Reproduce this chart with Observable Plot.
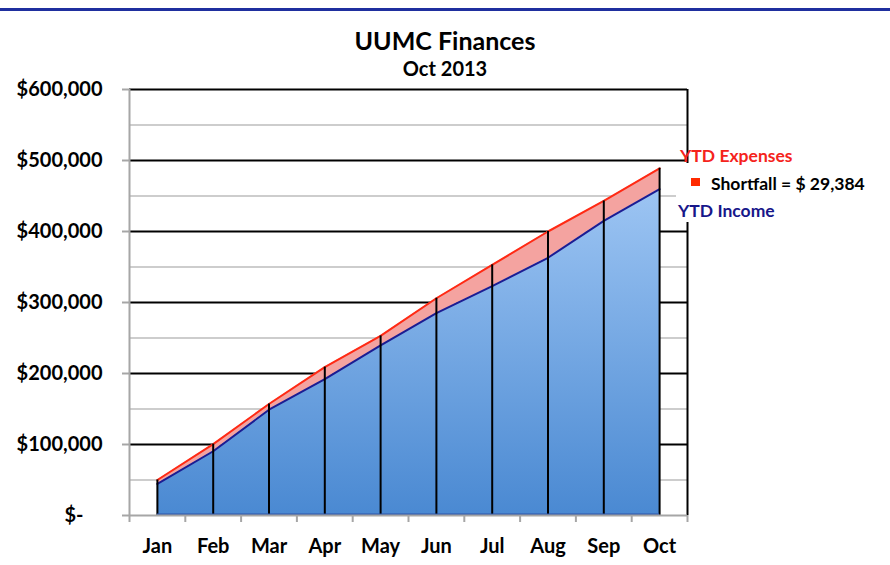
<!DOCTYPE html>
<html><head><meta charset="utf-8">
<script src="https://cdn.jsdelivr.net/npm/d3@7"></script>
<script src="https://cdn.jsdelivr.net/npm/@observablehq/plot@0.6"></script>
<style>
html,body{margin:0;padding:0;background:#fff;}
#page{position:relative;width:890px;height:565px;overflow:hidden;font-family:Lato,"Open Sans",sans-serif;font-weight:bold;}
.topline{position:absolute;left:0;top:8px;width:890px;height:3px;background:#1f2f9f;}
.ttl{position:absolute;left:0;width:890px;text-align:center;color:#000;line-height:1;white-space:nowrap;}
#chart{position:absolute;left:0;top:60px;}
.lbl{position:absolute;font-size:17.5px;line-height:1;white-space:nowrap;}
.lbox{position:absolute;left:676px;top:163px;width:214px;height:59px;background:#fff;}
.sw{position:absolute;left:691px;top:178px;width:9px;height:8px;background:#ff2a00;}
</style></head><body>
<div id="page">
  <div class="topline"></div>
  <div class="ttl" id="t1" style="top:27.5px;font-size:25px;">UUMC Finances</div>
  <div class="ttl" id="t2" style="top:57.5px;font-size:20px;">Oct 2013</div>
  <div id="chart"></div>
  <div class="lbox"></div>
  <div class="lbl" id="lexp" style="left:680px;top:146.5px;color:#f5231c;">YTD Expenses</div>
  <div class="sw"></div>
  <div class="lbl" id="lsf" style="left:711px;top:174.5px;color:#000;"></div>
  <div class="lbl" id="linc" style="left:678px;top:201.5px;color:#17178a;">YTD Income</div>
</div>
<script>
const months = ["Jan","Feb","Mar","Apr","May","Jun","Jul","Aug","Sep","Oct"];
const expenses = [50000,100500,157000,209000,253000,306000,353000,400000,443000,489000];
const income = [44500,90500,149000,192000,239500,285000,323000,363000,415000,459616];
const yMajor = [0,100000,200000,300000,400000,500000,600000];
const yMinor = [50000,150000,250000,350000,450000,550000];
const shortfall = 29384;

document.getElementById("lsf").textContent = "Shortfall = $ " + d3.format(",")(shortfall);

const data = months.map((m,i)=>({i, month:m, expenses:expenses[i], income:income[i]}));
const idx = months.map((_,i)=>i);
const bounds = d3.range(months.length+1).map(i=>i-0.5);
const yTop = yMajor[yMajor.length-1];

const plot = Plot.plot({
  width: 890, height: 505,
  marginTop: 29, marginBottom: 50, marginLeft: 129, marginRight: 203,
  style: {fontFamily: "Lato, 'Open Sans', sans-serif", fontSize: "20px", fontWeight: "bold", background: "transparent"},
  x: {type: "linear", domain: [-0.5, months.length-0.5], axis: null},
  y: {domain: [0, yTop], axis: null},
  marks: [
    Plot.ruleY(yMinor, {stroke: "#cdcdcd", strokeWidth: 2}),
    Plot.ruleY(yMajor.filter(d=>d>0), {stroke: "#000", strokeWidth: 2}),
    Plot.areaY(data, {x: "i", y1: "income", y2: "expenses", fill: "#f4a3a0"}),
    Plot.areaY(data, {x: "i", y1: 0, y2: "income", fill: "url(#incGrad)"}),
    Plot.lineY(data, {x: "i", y: "expenses", stroke: "#ff2a14", strokeWidth: 2}),
    Plot.lineY(data, {x: "i", y: "income", stroke: "#1c1c92", strokeWidth: 2}),
    Plot.ruleX(data, {x: "i", y1: 0, y2: "expenses", stroke: "#000", strokeWidth: 2}),
    Plot.ruleY([0], {x1: 0, x2: months.length-1, stroke: "#2d55a8", strokeWidth: 2, dy: -1}),
    Plot.ruleX([months.length-0.5], {y1: 0, y2: yTop, stroke: "#000", strokeWidth: 2}),
    Plot.ruleX([-0.5], {y1: 0, y2: yTop, stroke: "#a6a6a6", strokeWidth: 2}),
    Plot.ruleY([0], {stroke: "#a6a6a6", strokeWidth: 2}),
    Plot.axisY({ticks: yMajor.filter(d=>d>0), tickSize: 7, tickPadding: 20, tickFormat: d3.format("$,"), stroke: "#a6a6a6", strokeWidth: 2, fill: "#000", fontSize: 20, fontWeight: "bold", label: null}),
    Plot.axisY({ticks: [0], tickSize: 7, tickPadding: 39, tickFormat: () => "$-", stroke: "#a6a6a6", strokeWidth: 2, fill: "#000", fontSize: 20, fontWeight: "bold", label: null}),
    Plot.axisX({ticks: bounds, tickSize: 7, tickFormat: () => "", stroke: "#a6a6a6", strokeWidth: 2, label: null}),
    Plot.axisX({ticks: idx, tickSize: 0, tickPadding: 23, tickFormat: i => months[i], fill: "#000", fontSize: 20, fontWeight: "bold", label: null})
  ]
});

const ys = plot.scale("y");
const defs = d3.select(plot).insert("defs", ":first-child");
const grad = defs.append("linearGradient").attr("id", "incGrad")
  .attr("gradientUnits", "userSpaceOnUse")
  .attr("x1", 0).attr("x2", 0)
  .attr("y1", ys.apply(yTop)).attr("y2", ys.apply(0));
grad.append("stop").attr("offset", "0%").attr("stop-color", "#b6d7fd");
grad.append("stop").attr("offset", "100%").attr("stop-color", "#4a89d2");

document.getElementById("chart").appendChild(plot);
</script>
</body></html>
